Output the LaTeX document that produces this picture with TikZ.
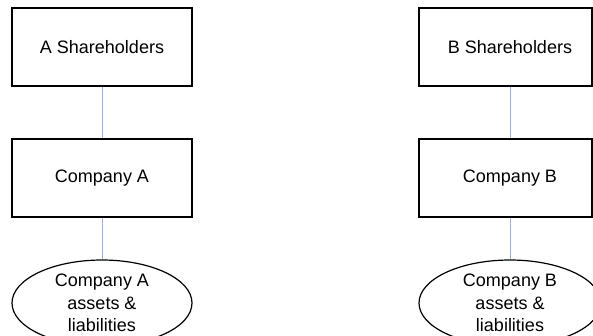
\documentclass[tikz,border=0pt]{standalone}
\usepackage{fontspec}
\setmainfont{Liberation Sans}
\usetikzlibrary{shapes.geometric}
\definecolor{linkblue}{HTML}{9DAEDC}
\begin{document}
\begin{tikzpicture}[x=1pt,y=-1pt,
  box/.style={draw=black,line width=1.2pt,minimum width=180pt,minimum height=78pt,inner sep=0pt,font=\fontsize{18}{22}\selectfont},
  oval/.style={draw=black,line width=1.2pt,ellipse,minimum width=180pt,minimum height=86pt,inner sep=0pt,align=center,font=\fontsize{18}{22.5}\selectfont},
  link/.style={draw=linkblue,line width=0.9pt}]
\useasboundingbox (0,0) rectangle (593,335);
\begin{scope}
\clip (0,0) rectangle (593,335);
\node[box] (ash) at (102,47) {A Shareholders};
\node[box] (ca) at (102,178) {Company A};
\node[oval] (aa) at (102,303) {Company A\\assets \&\\liabilities};
\node[box,minimum width=173pt] (bsh) at (505.5,47) {\hspace*{9pt}B Shareholders};
\node[box,minimum width=173pt] (cb) at (505.5,178) {\hspace*{9pt}Company B};
\node[oval,minimum width=182pt] (ba) at (510,303) {Company B\\assets \&\\liabilities};
\end{scope}
\draw[link] (ash) -- (ca);
\draw[link] (ca) -- (aa);
\draw[link] (bsh.south -| ba.north) -- (cb.north -| ba.north);
\draw[link] (cb.south -| ba.north) -- (ba.north);
\end{tikzpicture}
\end{document}
